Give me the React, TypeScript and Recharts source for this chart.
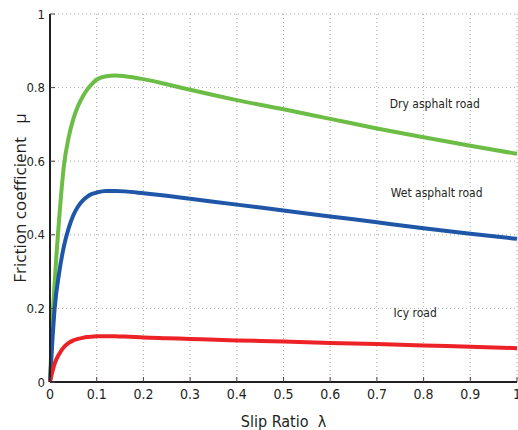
import React from "react";
import {
  LineChart,
  Line,
  XAxis,
  YAxis,
  CartesianGrid,
  ReferenceDot,
} from "recharts";

// slip ratio samples (x) and friction coefficient per road surface
const slipRatio = [
  0, 0.005, 0.01, 0.02, 0.03, 0.04, 0.05, 0.06, 0.07, 0.08, 0.09, 0.1, 0.12,
  0.14, 0.16, 0.2, 0.25, 0.3, 0.4, 0.5, 0.6, 0.7, 0.8, 0.9, 1.0,
];
const dryMu = [
  0, 0.16, 0.27, 0.45, 0.59, 0.665, 0.715, 0.75, 0.775, 0.795, 0.81, 0.822,
  0.831, 0.833, 0.831, 0.823, 0.809, 0.794, 0.766, 0.741, 0.715, 0.689, 0.665,
  0.642, 0.62,
];
const wetMu = [
  0, 0.11, 0.2, 0.3, 0.37, 0.418, 0.453, 0.477, 0.493, 0.504, 0.511, 0.515,
  0.519, 0.519, 0.518, 0.513, 0.506, 0.498, 0.482, 0.466, 0.45, 0.434, 0.418,
  0.403, 0.389,
];
const icyMu = [
  0, 0.028, 0.05, 0.077, 0.095, 0.106, 0.113, 0.117, 0.12, 0.122, 0.123,
  0.124, 0.1245, 0.124, 0.1235, 0.121, 0.119, 0.117, 0.113, 0.11, 0.106,
  0.103, 0.099, 0.096, 0.092,
];

const xTicks = [0, 0.1, 0.2, 0.3, 0.4, 0.5, 0.6, 0.7, 0.8, 0.9, 1];
const yTicks = [0, 0.2, 0.4, 0.6, 0.8, 1];

const roadLabels = [
  { name: "Dry asphalt road", x: 0.824, y: 0.756 },
  { name: "Wet asphalt road", x: 0.828, y: 0.513 },
  { name: "Icy road", x: 0.782, y: 0.188 },
];

const data = slipRatio.map((l, i) => ({
  lambda: l,
  dry: dryMu[i],
  wet: wetMu[i],
  icy: icyMu[i],
}));

const INK = "#231f20";
const NARROW = "'Liberation Sans Narrow', 'DejaVu Sans Condensed', sans-serif";

const fmt = (v: number) => (v === 0 || v === 1 ? String(v) : v.toFixed(1));

const BottomTick = ({ x, y, payload }: any) => (
  <g>
    <line x1={x} y1={y} x2={x} y2={y - 5} stroke="#444" />
    <text
      x={x}
      y={y + 7}
      dy="0.71em"
      textAnchor="middle"
      fontSize={14}
      fontFamily={NARROW}
      fill={INK}
    >
      {fmt(payload.value)}
    </text>
  </g>
);

const LeftTick = ({ x, y, payload }: any) => (
  <g>
    <line x1={x} y1={y} x2={x + 5} y2={y} stroke="#444" />
    <text
      x={x - 5}
      y={y}
      dy="0.35em"
      textAnchor="end"
      fontSize={13}
      fontFamily={NARROW}
      fill={INK}
    >
      {fmt(payload.value)}
    </text>
  </g>
);

const TopTick = ({ x, y }: any) => (
  <line x1={x} y1={y} x2={x} y2={y + 5} stroke="#444" />
);

const RightTick = ({ x, y }: any) => (
  <line x1={x} y1={y} x2={x - 5} y2={y} stroke="#444" />
);

export default function App() {
  return (
    <div style={{ position: "absolute", left: 0, top: 0, background: "#fff" }}>
      <LineChart
        width={518}
        height={430}
        data={data}
        margin={{ top: 14, right: 1, bottom: 0, left: 0 }}
      >
        <CartesianGrid stroke="#a8a8a8" strokeDasharray="1 3" />
        <XAxis
          dataKey="lambda"
          type="number"
          domain={[0, 1]}
          ticks={xTicks}
          height={48}
          tickSize={0}
          tickMargin={0}
          tickLine={false}
          tick={<BottomTick />}
          axisLine={{ stroke: INK, strokeWidth: 2 }}
          interval={0}
          label={{
            value: "Slip Ratio\u00a0\u00a0λ",
            position: "insideBottom",
            offset: 3,
            fontSize: 16,
            fontFamily: NARROW,
            fill: INK,
          }}
        />
        <XAxis
          xAxisId="top"
          orientation="top"
          dataKey="lambda"
          type="number"
          domain={[0, 1]}
          ticks={xTicks}
          height={0}
          tickSize={0}
          tickMargin={0}
          tickLine={false}
          tick={<TopTick />}
          axisLine={{ stroke: INK, strokeWidth: 1.5 }}
          interval={0}
        />
        <YAxis
          type="number"
          domain={[0, 1]}
          ticks={yTicks}
          width={50}
          tickSize={0}
          tickMargin={0}
          tickLine={false}
          tick={<LeftTick />}
          axisLine={{ stroke: INK, strokeWidth: 2 }}
          interval={0}
          label={{
            value: "Friction coefficient\u00a0\u00a0\u00a0μ",
            angle: -90,
            position: "insideLeft",
            offset: 20,
            fontSize: 17,
            fontFamily: "'Open Sans', sans-serif",
            fill: INK,
            style: { textAnchor: "middle" },
          }}
        />
        <YAxis
          yAxisId="right"
          orientation="right"
          type="number"
          domain={[0, 1]}
          allowDataOverflow
          ticks={yTicks}
          width={0}
          tickSize={0}
          tickMargin={0}
          tickLine={false}
          tick={<RightTick />}
          axisLine={false}
          interval={0}
        />
        <Line
          type="monotone"
          dataKey="dry"
          stroke="#6cbd45"
          strokeWidth={4}
          dot={false}
          isAnimationActive={false}
        />
        <Line
          type="monotone"
          dataKey="wet"
          stroke="#1f56a8"
          strokeWidth={4}
          dot={false}
          isAnimationActive={false}
        />
        <Line
          type="monotone"
          dataKey="icy"
          stroke="#ec2227"
          strokeWidth={4}
          dot={false}
          isAnimationActive={false}
        />
        {roadLabels.map((r) => (
          <ReferenceDot
            key={r.name}
            x={r.x}
            y={r.y}
            r={0}
            fill="none"
            stroke="none"
            label={{
              value: r.name,
              position: "center",
              fontSize: 12,
              fontFamily: NARROW,
              fill: INK,
            }}
          />
        ))}
      </LineChart>
    </div>
  );
}
